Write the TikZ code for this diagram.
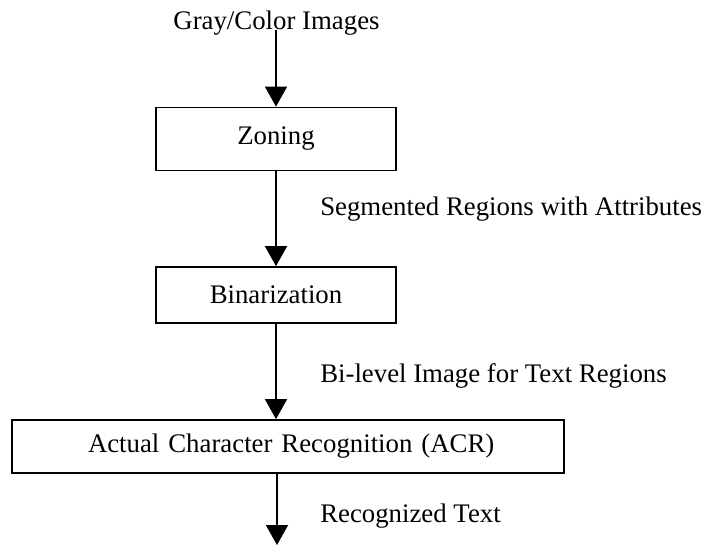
\documentclass[tikz,border=0pt]{standalone}
\usepackage{fontspec}
\setmainfont{Liberation Serif}
\usetikzlibrary{arrows.meta}
\begin{document}
\begin{tikzpicture}[x=0.75pt,y=-0.75pt,
  every node/.style={font=\fontsize{20.1}{24}\selectfont, inner sep=0pt},
  box/.style={draw, line width=1.3pt, minimum height=#1*0.75pt},
  lbl/.style={anchor=base west},
  arr/.style={line width=1.3pt, -{Triangle[width=16.5pt,length=15pt]}}]
\useasboundingbox (0,0) rectangle (701,546);
\node[anchor=base] (src) at (276.5,30) {Gray/Color Images};
\node[box=63, minimum width=240*0.75pt] (zon) at (276,139) {Zoning};
\node[box=56, minimum width=240*0.75pt] (bin) at (276,295) {Binarization};
\node[box=53, text width=476*0.75pt, align=left, inner xsep=38*0.75pt] (acr) at (288,446.5) {\hspace*{28.5pt}Actual Character Recognition (ACR)};
\node[lbl] (l1) at (320,215) {Segmented Regions with Attributes};
\node[lbl] (l2) at (320,382) {Bi-level Image for Text Regions};
\node[lbl] (l3) at (320,522) {Recognized Text};
\coordinate (out) at (277,545);
\draw[arr] (src.base -| zon.north) -- (zon.north);
\draw[arr] (zon.south) -- (bin.north);
\draw[arr] (bin.south) -- (bin.south |- acr.north);
\draw[arr] (out |- acr.south) -- (out);
\end{tikzpicture}
\end{document}
